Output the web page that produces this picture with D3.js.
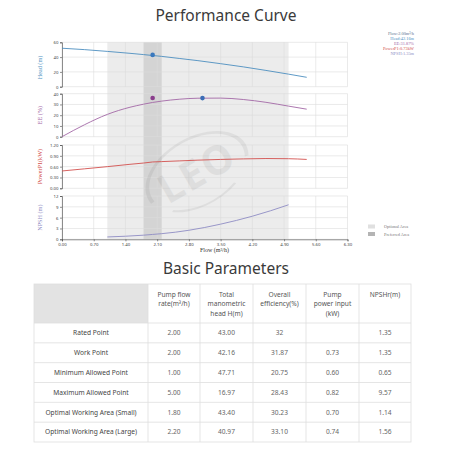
<!DOCTYPE html>
<html><head><meta charset="utf-8">
<script src="https://cdn.jsdelivr.net/npm/d3@7"></script>
<style>html,body{margin:0;padding:0;background:#fff;}svg{display:block;}</style>
</head><body>
<script>
// ---- data ----
const flow  = [0, 0.5, 1.0, 1.5, 1.8, 2.0, 2.2, 2.6, 3.0, 3.5, 4.0, 4.5, 5.0, 5.4];
const head  = [52, 50.1, 47.71, 45.1, 43.4, 42.16, 40.97, 38.1, 35.2, 31.1, 26.8, 22.0, 16.97, 12.7];
const ee    = [0, 11.2, 20.75, 27.4, 30.23, 31.87, 33.1, 34.9, 35.8, 35.9, 34.6, 32.0, 28.43, 25.6];
const power = [0.48, 0.54, 0.60, 0.665, 0.70, 0.73, 0.74, 0.76, 0.78, 0.80, 0.815, 0.825, 0.82, 0.80];
const npshFlow = [1.0, 1.4, 1.8, 2.0, 2.2, 2.8, 3.5, 4.2, 4.6, 5.0];
const npsh     = [0.65, 0.85, 1.14, 1.35, 1.56, 2.5, 4.2, 6.4, 7.9, 9.57];
const xTicks = [0, 0.7, 1.4, 2.1, 2.8, 3.5, 4.2, 4.9, 5.6, 6.3];
const headTicks = [0, 20, 40, 60];
const eeTicks = [0, 10, 20, 30, 40];
const powerTicks = [0, 0.3, 0.6, 0.9, 1.2];
const npshTicks = [0, 3, 6, 9, 12];
const optionalArea = [1.0, 5.0];
const preferredArea = [1.8, 2.2];
const headMarker = [2.0, 43];
const eeMarkers = [[2.0, 36, "#8a3d8c"], [3.1, 35.9, "#3c6db5"]];
const legendLines = ["Flow:2.00m³/h", "Head:42.16m", "EE:31.87%", "PowerP1:0.73kW", "NPSH:1.35m"];
const tableHeaders = ["", "Pump flow|rate(m³/h)", "Total|manometric|head H(m)", "Overall|efficiency(%)", "Pump|power input|(kW)", "NPSHr(m)"];
const rowLabels = ["Rated Point", "Work Point", "Minimum Allowed Point", "Maximum Allowed Point", "Optimal Working Area (Small)", "Optimal Working Area (Large)"];
const colFlow  = ["2.00", "2.00", "1.00", "5.00", "1.80", "2.20"];
const colHead  = ["43.00", "42.16", "47.71", "16.97", "43.40", "40.97"];
const colEff   = ["32", "31.87", "20.75", "28.43", "30.23", "33.10"];
const colPower = ["", "0.73", "0.60", "0.82", "0.70", "0.74"];
const colNpsh  = ["1.35", "1.35", "0.65", "9.57", "1.14", "1.56"];

// ---- drawing ----
const W = 452, H = 452;
const svg = d3.select("body").append("svg").attr("width", W).attr("height", H);
const sans = "'Noto Sans', 'Open Sans', sans-serif";
const serif = "'Liberation Serif', 'DejaVu Serif', serif";

svg.append("text").attr("x", 226).attr("y", 21).attr("text-anchor", "middle")
  .attr("font-family", sans).attr("font-size", 15.5).attr("fill", "#3a3a3a").text("Performance Curve");

const x = d3.scaleLinear().domain([0, 6.3]).range([62, 347.5]);
const panels = [
  {name: "Head (m)", color: "#4d8fbf", dom: [0, 60], range: [86.7, 42.3], ticks: headTicks, fmt: d3.format("d"), xs: flow, ys: head},
  {name: "EE (%)", color: "#a368a6", dom: [0, 40], range: [136.7, 93.7], ticks: eeTicks, fmt: d3.format("d"), xs: flow, ys: ee},
  {name: "PowerP1(kW)", color: "#d2504e", dom: [0, 1.2], range: [188.3, 145], ticks: powerTicks, fmt: d3.format(".2f"), xs: flow, ys: power},
  {name: "NPSH (m)", color: "#8f8cc4", dom: [0, 12], range: [239.3, 196], ticks: npshTicks, fmt: d3.format("d"), xs: npshFlow, ys: npsh}
];

// shaded areas
const plotTop = 42.3, plotBottom = 239.3;
svg.append("rect").attr("x", x(optionalArea[0])).attr("y", plotTop)
  .attr("width", x(optionalArea[1]) - x(optionalArea[0])).attr("height", plotBottom - plotTop).attr("fill", "#ececec");
svg.append("rect").attr("x", x(preferredArea[0])).attr("y", plotTop)
  .attr("width", x(preferredArea[1]) - x(preferredArea[0])).attr("height", plotBottom - plotTop).attr("fill", "#d4d4d4");

panels.forEach((p, i) => {
  const y = d3.scaleLinear().domain(p.dom).range(p.range);
  p.y = y;
  const g = svg.append("g");
  g.selectAll(".hg").data(p.ticks).join("line")
    .attr("x1", x(0)).attr("x2", x(6.3)).attr("y1", d => y(d)).attr("y2", d => y(d))
    .attr("stroke", "#dcdcdc").attr("stroke-width", 0.6);
  g.selectAll(".vg").data(xTicks).join("line")
    .attr("x1", d => x(d)).attr("x2", d => x(d)).attr("y1", y.range()[0]).attr("y2", y.range()[1])
    .attr("stroke", "#dcdcdc").attr("stroke-width", 0.6);
  const ax = svg.append("g").attr("transform", `translate(${x(0)},0)`)
    .call(d3.axisLeft(y).tickValues(p.ticks).tickFormat(p.fmt).tickSize(2).tickPadding(1.5));
  ax.select(".domain").attr("stroke", "#444").attr("stroke-width", 0.6);
  ax.selectAll(".tick line").attr("stroke", "#444").attr("stroke-width", 0.6);
  ax.selectAll("text").attr("font-size", 4.3).attr("font-family", sans).attr("fill", "#444");
  const cy = (p.range[0] + p.range[1]) / 2 + (i === 0 ? 3 : 0);
  svg.append("text").attr("transform", `translate(42,${cy}) rotate(-90)`)
    .attr("text-anchor", "middle").attr("font-family", serif).attr("font-size", 6.2)
    .attr("fill", p.color).text(p.name);
});

const bx = svg.append("g").attr("transform", `translate(0,${plotBottom})`)
  .call(d3.axisBottom(x).tickValues(xTicks).tickFormat(d3.format(".2f")).tickSize(2).tickPadding(1.5));
bx.select(".domain").attr("stroke", "#444").attr("stroke-width", 0.6);
bx.selectAll(".tick line").attr("stroke", "#444").attr("stroke-width", 0.6);
bx.selectAll("text").attr("font-size", 4.3).attr("font-family", sans).attr("fill", "#444");
svg.append("text").attr("x", 200).attr("y", 251.5).attr("font-family", serif)
  .attr("font-size", 6).attr("fill", "#333").text("Flow (m³/h)");

// watermark
const wm = svg.append("g").attr("transform", "translate(197,172) rotate(-30)").attr("opacity", 0.07);
wm.append("text").attr("text-anchor", "middle").attr("y", 14).attr("font-family", sans)
  .attr("font-weight", "bold").attr("font-size", 40).attr("letter-spacing", 2).attr("fill", "#333").text("LEO");
wm.append("path").attr("d", d3.arc()({innerRadius: 52, outerRadius: 56, startAngle: -1.7, endAngle: 1.9}))
  .attr("transform", "scale(1,0.62)").attr("fill", "#333");
wm.append("path").attr("d", d3.arc()({innerRadius: 52, outerRadius: 55, startAngle: 2.6, endAngle: 4.0}))
  .attr("transform", "scale(1,0.62)").attr("fill", "#333");

// curves
const line = d3.line().curve(d3.curveMonotoneX);
panels.forEach(p => {
  svg.append("path").attr("d", line(p.xs.map((v, i) => [x(v), p.y(p.ys[i])])))
    .attr("fill", "none").attr("stroke", p.color).attr("stroke-width", 0.9);
});
svg.append("circle").attr("cx", x(headMarker[0])).attr("cy", panels[0].y(headMarker[1])).attr("r", 2.3).attr("fill", "#3a78bd");
eeMarkers.forEach(m => svg.append("circle").attr("cx", x(m[0])).attr("cy", panels[1].y(m[1])).attr("r", 2.3).attr("fill", m[2]));

// top-right legend
const legColors = ["#5a6f8e", "#4d8fbf", "#a368a6", "#d2504e", "#8f8cc4"];
legendLines.forEach((t, i) => {
  svg.append("text").attr("x", 414).attr("y", 35 + i * 5.1).attr("text-anchor", "end")
    .attr("font-family", serif).attr("font-size", 4.4).attr("fill", legColors[i]).text(t);
});

// bottom legend
[["Optional Area", "#e0e0e0"], ["Preferred Area", "#b4b4b4"]].forEach((d, i) => {
  svg.append("rect").attr("x", 368).attr("y", 224.5 + i * 7.5).attr("width", 7).attr("height", 4).attr("fill", d[1]);
  svg.append("text").attr("x", 384).attr("y", 228.3 + i * 7.5).attr("font-family", serif)
    .attr("font-size", 4.3).attr("fill", "#777").text(d[0]);
});

// ---- table ----
svg.append("text").attr("x", 226).attr("y", 274).attr("text-anchor", "middle")
  .attr("font-family", sans).attr("font-size", 15.5).attr("fill", "#3a3a3a").text("Basic Parameters");

const colEdges = [34, 148, 200, 253, 306, 359, 411];
const headerTop = 284, headerBottom = 323, rowH = (442 - 323) / 6;
const tcol = "#555";
svg.append("rect").attr("x", colEdges[0]).attr("y", headerTop).attr("width", colEdges[1] - colEdges[0])
  .attr("height", headerBottom - headerTop).attr("fill", "#e3e3e3");
const bcol = "#dedede";
svg.append("rect").attr("x", colEdges[0]).attr("y", headerTop).attr("width", colEdges[6] - colEdges[0])
  .attr("height", 442 - headerTop).attr("fill", "none").attr("stroke", bcol).attr("stroke-width", 0.8);
colEdges.slice(1, 6).forEach(cx => svg.append("line").attr("x1", cx).attr("x2", cx).attr("y1", headerTop).attr("y2", 442)
  .attr("stroke", bcol).attr("stroke-width", 0.8));
d3.range(6).forEach(r => {
  const yy = headerBottom + r * rowH;
  svg.append("line").attr("x1", colEdges[0]).attr("x2", colEdges[6]).attr("y1", yy).attr("y2", yy)
    .attr("stroke", bcol).attr("stroke-width", 0.8);
});
tableHeaders.forEach((h, c) => {
  if (!h) return;
  const cx = (colEdges[c] + colEdges[c + 1]) / 2;
  h.split("|").forEach((ln, k) => {
    svg.append("text").attr("x", cx).attr("y", 297 + k * 9.4).attr("text-anchor", "middle")
      .attr("font-family", sans).attr("font-size", 6.6).attr("fill", tcol).text(ln);
  });
});
const cols = [rowLabels, colFlow, colHead, colEff, colPower, colNpsh];
cols.forEach((col, c) => {
  const cx = (colEdges[c] + colEdges[c + 1]) / 2;
  col.forEach((v, r) => {
    svg.append("text").attr("x", cx).attr("y", headerBottom + r * rowH + rowH / 2 + 2.3)
      .attr("text-anchor", "middle").attr("font-family", sans).attr("font-size", 6.6)
      .attr("fill", c === 0 ? "#444" : "#666").text(v);
  });
});
</script>
</body></html>
